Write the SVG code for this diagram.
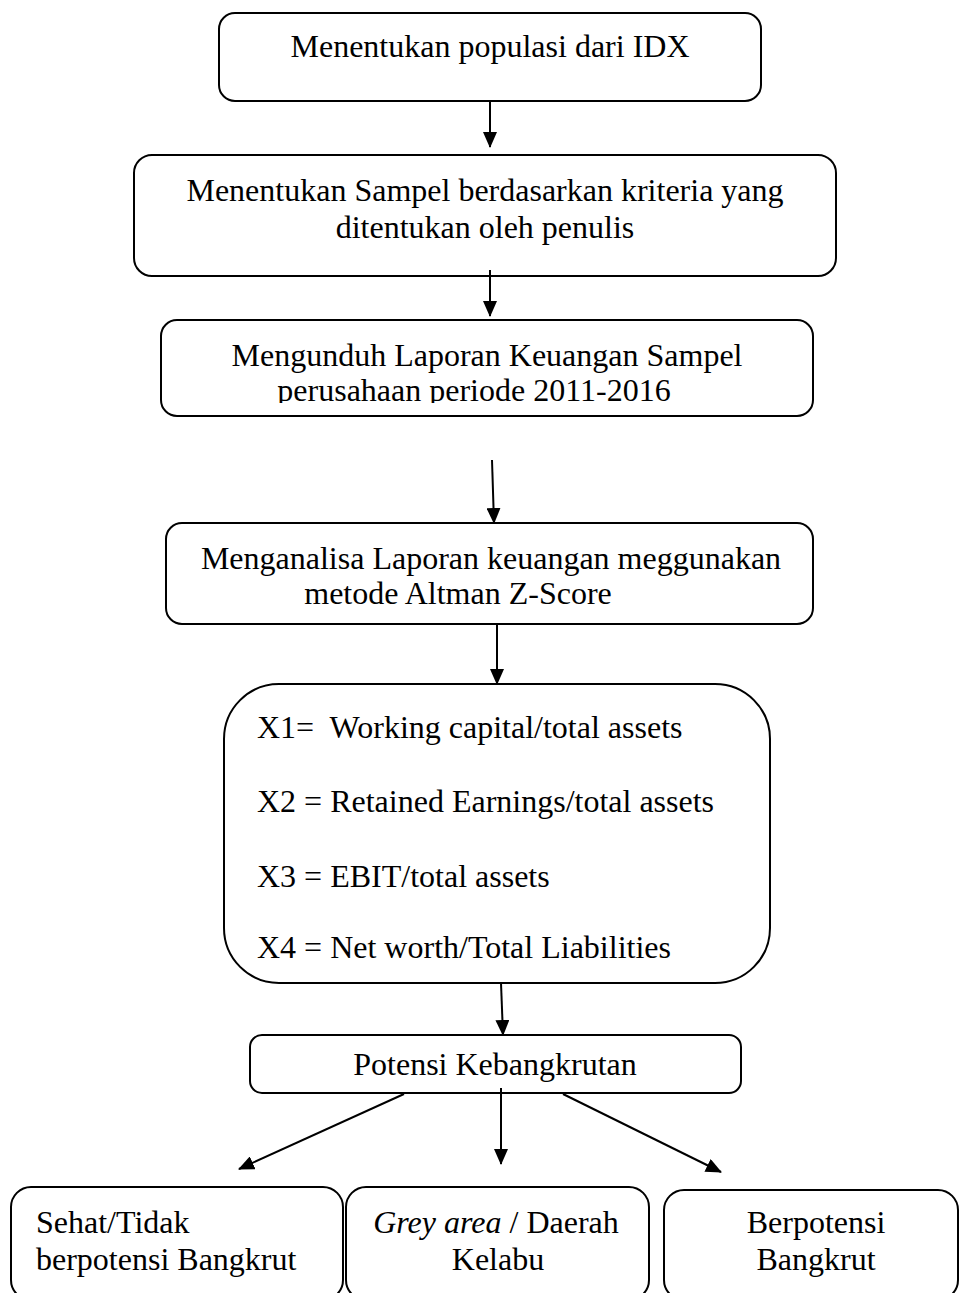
<svg xmlns="http://www.w3.org/2000/svg" width="960" height="1293" viewBox="0 0 960 1293">
<defs>
<style>
.box{fill:#fff;stroke:#000;stroke-width:2}
.t{font-family:"Liberation Serif","Times New Roman",serif;font-size:32px;fill:#000}
.c{text-anchor:middle}
.con line{stroke:#000;stroke-width:2;marker-end:url(#ah)}
</style>
<marker id="ah" viewBox="0 0 16 14" refX="15" refY="7" markerWidth="16" markerHeight="14" markerUnits="userSpaceOnUse" orient="auto">
<path d="M0,0 L16,7 L0,14 Z" fill="#000"/>
</marker>
<clipPath id="clip3"><rect x="160" y="320" width="654" height="83"/></clipPath>
</defs>
<rect width="960" height="1293" fill="#fff"/>
<g id="n1">
<rect class="box" x="219" y="13" width="542" height="88" rx="16"/>
<text class="t c" x="490" y="57">Menentukan populasi dari IDX</text>
</g>
<g id="n2">
<rect class="box" x="134" y="155" width="702" height="121" rx="18"/>
<text class="t c" x="485" y="201">Menentukan Sampel berdasarkan kriteria yang</text>
<text class="t c" x="485" y="238">ditentukan oleh penulis</text>
</g>
<g id="n3">
<rect class="box" x="161" y="320" width="652" height="96" rx="16"/>
<text class="t c" x="487" y="366">Mengunduh Laporan Keuangan Sampel</text>
<text class="t c" x="474" y="401" clip-path="url(#clip3)">perusahaan periode 2011-2016</text>
</g>
<g id="n4">
<rect class="box" x="166" y="523" width="647" height="101" rx="16"/>
<text class="t c" x="491" y="569">Menganalisa Laporan keuangan meggunakan</text>
<text class="t c" x="458" y="604">metode Altman Z-Score</text>
</g>
<g id="n5">
<rect class="box" x="224" y="684" width="546" height="299" rx="55"/>
<text class="t" x="257" y="738" xml:space="preserve">X1=  Working capital/total assets</text>
<text class="t" x="257" y="812">X2 = Retained Earnings/total assets</text>
<text class="t" x="257" y="887">X3 = EBIT/total assets</text>
<text class="t" x="257" y="958">X4 = Net worth/Total Liabilities</text>
</g>
<g id="n6">
<rect class="box" x="250" y="1035" width="491" height="58" rx="12"/>
<text class="t c" x="495" y="1075">Potensi Kebangkrutan</text>
</g>
<g id="n7">
<rect class="box" x="11" y="1187" width="332" height="113" rx="20"/>
<text class="t" x="36" y="1233">Sehat/Tidak</text>
<text class="t" x="36" y="1270">berpotensi Bangkrut</text>
</g>
<g id="n8">
<rect class="box" x="346" y="1187" width="303" height="113" rx="20"/>
<text class="t c" x="496" y="1233"><tspan font-style="italic">Grey area</tspan> / Daerah</text>
<text class="t c" x="498" y="1270">Kelabu</text>
</g>
<g id="n9">
<rect class="box" x="664" y="1190" width="294" height="110" rx="20"/>
<text class="t c" x="816" y="1233">Berpotensi</text>
<text class="t c" x="816" y="1270">Bangkrut</text>
</g>
<g id="connectors" class="con">
<line x1="490" y1="101" x2="490" y2="147"/>
<line x1="490" y1="270" x2="490" y2="316"/>
<line x1="492" y1="460" x2="494" y2="523"/>
<line x1="497" y1="624" x2="497" y2="684"/>
<line x1="501" y1="983" x2="503" y2="1035"/>
<line x1="404" y1="1094" x2="239" y2="1169"/>
<line x1="501" y1="1088" x2="501" y2="1164"/>
<line x1="563" y1="1094" x2="721" y2="1172"/>
</g>
</svg>
